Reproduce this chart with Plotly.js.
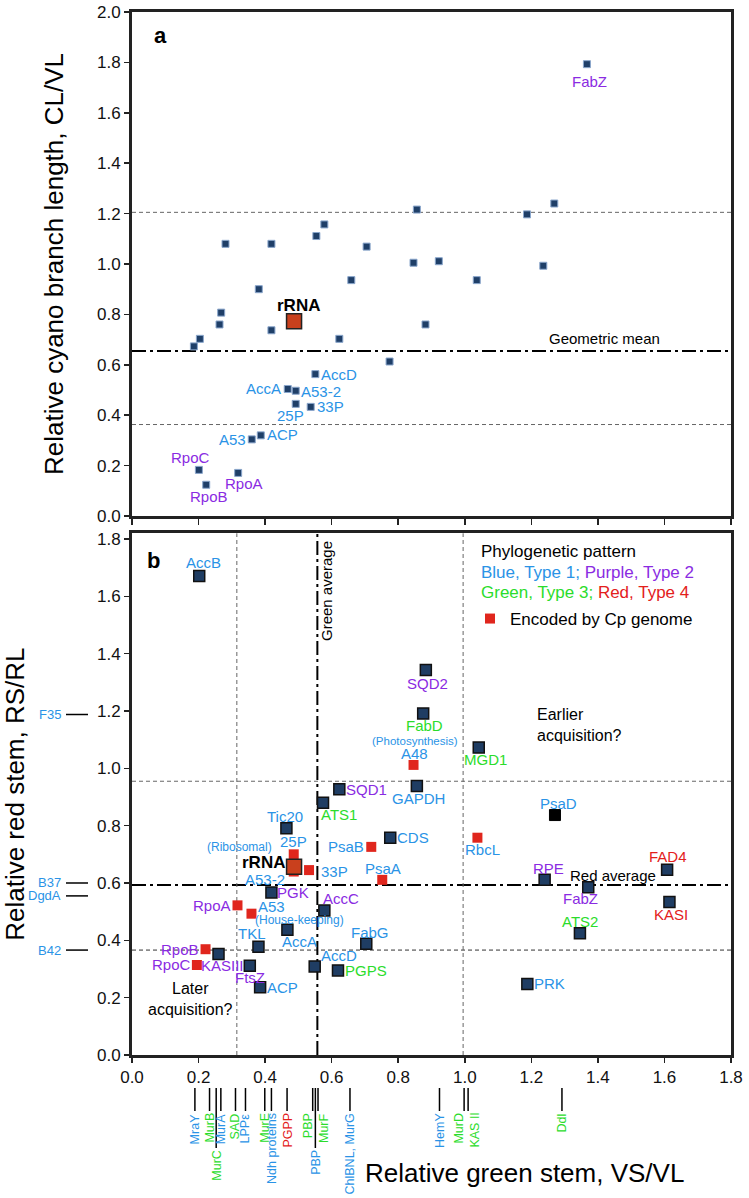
<!DOCTYPE html>
<html>
<head>
<meta charset="utf-8">
<script src="https://cdn.plot.ly/plotly-3.0.1.min.js"></script>
<style>html,body{margin:0;padding:0;background:#fff}#chart{width:749px;height:1198px}</style>
</head>
<body>
<div id="chart"></div>
<script>
// ---------------- DATA ----------------
// Panel a: relative green stem (VS/VL) vs relative cyano branch length (CL/VL)
const aGenes = ['FabZ','','','','','','','','','','','','','','','','','','','','','','',
                'AccD','AccA','A53-2','25P','33P','ACP','A53','RpoC','RpoB','RpoA'];
const aVS = [1.367,1.269,1.187,0.856,0.578,0.554,0.281,0.419,0.705,0.846,0.922,1.236,0.659,1.036,
             0.381,0.268,0.263,0.419,0.882,0.623,0.204,0.186,0.774,
             0.551,0.468,0.492,0.492,0.537,0.387,0.360,0.201,0.223,0.319];
const aCL = [1.793,1.240,1.197,1.216,1.157,1.111,1.080,1.080,1.069,1.005,1.011,0.993,0.936,0.936,
             0.900,0.807,0.760,0.737,0.760,0.703,0.703,0.673,0.613,
             0.563,0.504,0.497,0.445,0.433,0.320,0.304,0.183,0.124,0.171];
const geoMeanCL = 0.655, cyanoUpper = 1.205, cyanoLower = 0.363;

// rRNA reference
const rrnaVS = 0.487, rrnaCL = 0.773, rrnaRS = 0.657;

// Panel b: relative green stem (VS/VL) vs relative red stem (RS/RL)
const bGenes = ['AccB','SQD2','FabD','A48','MGD1','SQD1','GAPDH','ATS1','PsaD','Tic20','CDS','RbcL',
                'PsaB','25P','A53-2','33P','PsaA','RPE','FAD4','FabZ','KASI','ATS2','PRK','PGK','AccC',
                'RpoA','A53','AccA','TKL','FabG','RpoB','KASIII','RpoC','FtsZ','AccD','PGPS','ACP'];
const bVS = [0.202,0.883,0.875,0.846,1.042,0.623,0.856,0.574,1.271,0.464,0.776,1.038,
             0.719,0.486,0.486,0.532,0.752,1.240,1.608,1.371,1.615,1.346,1.188,0.419,0.578,
             0.317,0.359,0.467,0.380,0.704,0.221,0.260,0.195,0.354,0.549,0.619,0.385];
const bRS = [1.671,1.343,1.191,1.012,1.073,0.927,0.938,0.880,0.837,0.791,0.758,0.758,
             0.726,0.700,0.640,0.645,0.611,0.611,0.646,0.585,0.534,0.425,0.248,0.567,0.504,
             0.522,0.493,0.437,0.378,0.388,0.369,0.352,0.314,0.311,0.309,0.295,0.236];
// phylogenetic pattern type: 1 blue, 2 purple, 3 green, 4 red
const bType = [1,2,3,1,3,2,1,3,1,1,1,1,
               1,1,1,1,1,2,4,2,4,3,1,2,2,
               2,1,1,1,1,2,2,2,2,1,3,1];
// encoding: N nuclear, P plastid (Cp genome), U other
const bEncoding = ['N','N','N','P','N','N','N','N','U','N','N','P',
                   'P','P','P','P','P','N','N','N','N','N','N','N','N',
                   'P','P','N','N','N','P','N','P','N','N','N','N'];
const greenAverage = 0.557, redAverage = 0.593;
const greenLower = 0.315, greenUpper = 0.995, redUpper = 0.955, redLower = 0.366;

// genes known only on the green axis (bottom) or only on the red axis (left)
const bottomGenes = ['MraY','MurB','MurC','MurA','SAD','LPPε','MurE','Ndh proteins','PGPP','PBP','PBP','MurF',
                     'ChlBNL, MurG','HemY','MurD','KAS II','Ddl'];
const bottomVS = [0.189,0.233,0.253,0.267,0.311,0.341,0.399,0.419,0.466,0.543,0.551,0.559,
                  0.655,0.924,0.998,1.010,1.292];
const bottomType = [1,3,3,1,3,1,3,1,4,3,1,3,1,1,3,3,3];
const leftGenes = ['F35','B37','DgdA','B42'];
const leftRS = [1.188,0.600,0.555,0.366];
const leftType = [1,1,1,1];

const xTicks = [0,0.2,0.4,0.6,0.8,1.0,1.2,1.4,1.6,1.8];

// ---------------- STYLE / LAYOUT ----------------
const W = 749, H = 1198;
const FONT = 'Liberation Sans, Arial, Helvetica, sans-serif';
const px2x = p => p / W, px2y = p => 1 - p / H;
const typeColor = {1:'#2a93e6', 2:'#8a2be2', 3:'#2bdc2b', 4:'#e3201b'};
const typeOf = g => bType[bGenes.indexOf(g)];

const xDomain = [px2x(132), px2x(731)];
const yaDomain = [px2y(516), px2y(12)];
const ybTopVal = 1.82;
const ybDomain = [px2y(1055), px2y(1055 - ybTopVal * (516 / 1.8))];

const aLabelPos = {FabZ:['center',3,-17], AccD:['left',5,0], AccA:['right',-6,0], 'A53-2':['left',4,-1],
  '25P':['center',-5,-12], '33P':['left',5,0], ACP:['left',5,1], A53:['right',-5,0],
  RpoC:['center',-8,12], RpoB:['center',3,-12], RpoA:['center',6,-11]};
const bLabelPos = {AccB:['center',4,13], SQD2:['center',2,-13], FabD:['center',1,-12], A48:['center',1,11],
  MGD1:['center',7,-12], SQD1:['left',6,0], GAPDH:['center',2,-12], ATS1:['left',-3,-12], PsaD:['center',4,12],
  Tic20:['center',-1,12], CDS:['left',6,0], RbcL:['center',5,-12], PsaB:['right',-6,0], '25P':['center',0,13],
  'A53-2':['right',-8,-8], '33P':['left',11,-1], PsaA:['center',1,11], RPE:['center',4,11], FAD4:['center',1,13],
  FabZ:['center',-8,-11], KASI:['center',2,-13], ATS2:['center',0,12], PRK:['left',6,0], PGK:['left',5,0],
  AccC:['left',-2,12], RpoA:['right',-5,0], A53:['left',6,7], AccA:['center',12,-12], TKL:['center',-6,13],
  FabG:['center',4,11], RpoB:['right',-6,0], KASIII:['center',4,-11], RpoC:['right',-5,0], FtsZ:['center',0,-12],
  AccD:['left',5,11], PGPS:['left',6,0], ACP:['left',6,0]};
const bottomLongIdx = [2, 10];
const bottomLabelShift = {9:-5, 11:6, 14:-6, 15:6};

function lab(x, y, text, color, pos, xref, yref, size, extra) {
  return Object.assign({x, y, xref, yref, text, showarrow:false, xanchor:pos[0], yanchor:'middle', borderpad:0,
    xshift:pos[1], yshift:pos[2], font:{family:FONT, size:size||15, color}}, extra||{});
}

// ---------------- TRACES ----------------
const traces = [];
traces.push({type:'scatter', mode:'markers', x:aVS, y:aCL, xaxis:'x', yaxis:'y', showlegend:false, hoverinfo:'skip',
  marker:{symbol:'square', size:7, color:'#1f3f68', line:{color:'#8aa6cc', width:1}}});
traces.push({type:'scatter', mode:'markers', x:[rrnaVS], y:[rrnaCL], xaxis:'x', yaxis:'y', showlegend:false, hoverinfo:'skip',
  marker:{symbol:'square', size:15, color:'#c9401d', line:{color:'#222', width:1.5}}});

function pick(arr, enc) { return arr.filter((v,i) => bEncoding[i] === enc); }
traces.push({type:'scatter', mode:'markers', x:pick(bVS,'N'), y:pick(bRS,'N'), xaxis:'x2', yaxis:'y2',
  showlegend:false, hoverinfo:'skip',
  marker:{symbol:'square', size:11, color:'#1f3d63', line:{color:'#111', width:1.5}}});
traces.push({type:'scatter', mode:'markers', x:pick(bVS,'U'), y:pick(bRS,'U'), xaxis:'x2', yaxis:'y2',
  showlegend:false, hoverinfo:'skip',
  marker:{symbol:'square', size:11, color:'#000', line:{color:'#000', width:1}}});
traces.push({type:'scatter', mode:'markers', x:pick(bVS,'P'), y:pick(bRS,'P'), xaxis:'x2', yaxis:'y2',
  name:'Encoded by Cp genome', showlegend:true, hoverinfo:'skip',
  marker:{symbol:'square', size:10, color:'#e0261d', line:{width:0}}});
traces.push({type:'scatter', mode:'markers', x:[rrnaVS], y:[rrnaRS], xaxis:'x2', yaxis:'y2', showlegend:false, hoverinfo:'skip',
  marker:{symbol:'square', size:15, color:'#c9401d', line:{color:'#222', width:1.5}}});

// ---------------- SHAPES ----------------
const dash = '4px,3px', dashDot = '14px,4px,3px,4px';
const shapes = [];
function hline(y, yref, xref, style) { shapes.push({type:'line', xref, yref, x0:0, x1:1, y0:y, y1:y, layer:'below', line:style}); }
function vline(x, xref, yref, style) { shapes.push({type:'line', xref, yref, x0:x, x1:x, y0:0, y1:1, layer:'below', line:style}); }
const grayDash = {color:'#666', width:1, dash};
const blackDD = {color:'#000', width:2, dash:dashDot};
hline(cyanoUpper, 'y', 'x domain', grayDash);
hline(cyanoLower, 'y', 'x domain', grayDash);
hline(geoMeanCL, 'y', 'x domain', blackDD);
hline(redUpper, 'y2', 'x2 domain', grayDash);
hline(redLower, 'y2', 'x2 domain', {color:'#333', width:1, dash});
hline(redAverage, 'y2', 'x2 domain', blackDD);
vline(greenLower, 'x2', 'y2 domain', grayDash);
vline(greenUpper, 'x2', 'y2 domain', grayDash);
vline(greenAverage, 'x2', 'y2 domain', blackDD);

// gene markers outside the axes
const tickTop = 1088, tickShort = 1111, tickLong = 1148;
bottomVS.forEach((v, i) => {
  const end = bottomLongIdx.includes(i) ? tickLong : tickShort;
  shapes.push({type:'line', xref:'x2', yref:'paper', x0:v, x1:v, y0:px2y(tickTop), y1:px2y(end), line:{color:'#000', width:1.5}});
});
leftRS.forEach(v => {
  shapes.push({type:'line', xref:'paper', yref:'y2', x0:px2x(66), x1:px2x(88), y0:v, y1:v, line:{color:'#000', width:1.5}});
});

// ---------------- ANNOTATIONS ----------------
const ann = [];
aGenes.forEach((g, i) => {
  if (!g) return;
  ann.push(lab(aVS[i], aCL[i], g, typeColor[typeOf(g)], aLabelPos[g], 'x', 'y'));
});
ann.push(lab(rrnaVS, rrnaCL, '<b>rRNA</b>', '#000', ['center',4,16], 'x', 'y', 17));
bGenes.forEach((g, i) => {
  ann.push(lab(bVS[i], bRS[i], g, typeColor[bType[i]], bLabelPos[g], 'x2', 'y2'));
});
ann.push(lab(rrnaVS, rrnaRS, '<b>rRNA</b>', '#000', ['right',-8,4], 'x2', 'y2', 17));
// functional group notes
const iA48 = bGenes.indexOf('A48'), iA53 = bGenes.indexOf('A53');
ann.push(lab(bVS[iA48], bRS[iA48], '(Photosynthesis)', typeColor[1], ['center',1,24], 'x2', 'y2', 11.5));
ann.push(lab(rrnaVS, rrnaRS, '(Ribosomal)', typeColor[1], ['center',-55,20], 'x2', 'y2', 12));
ann.push(lab(bVS[iA53], bRS[iA53], '(House-keeping)', typeColor[1], ['center',48,-6], 'x2', 'y2', 12));
// reference-line notes
ann.push(lab(1.42, geoMeanCL, 'Geometric mean', '#000', ['center',0,12], 'x', 'y', 15));
ann.push(lab(greenAverage, 0.89, 'Green average', '#000', ['center',9,0], 'x2', 'y2 domain', 15, {textangle:-90}));
ann.push(lab(1.446, redAverage, 'Red average', '#000', ['center',0,10], 'x2', 'y2', 15));
ann.push(lab(1.214, 1.15, 'Earlier<br>acquisition?', '#000', ['left',0,0], 'x2', 'y2', 16, {align:'left'}));
ann.push(lab(0.177, 0.195, 'Later<br>acquisition?', '#000', ['center',0,0], 'x2', 'y2', 16, {align:'center'}));
// panel letters
ann.push(lab(0.048, 0.953, '<b>a</b>', '#000', ['center',0,0], 'x domain', 'y domain', 22));
ann.push(lab(0.036, 0.947, '<b>b</b>', '#000', ['center',0,0], 'x2 domain', 'y2 domain', 22));
// legend heading lines
const legendLines = ['Phylogenetic pattern',
  '<span style="color:' + typeColor[1] + '">Blue, Type 1; </span><span style="color:' + typeColor[2] + '">Purple, Type 2</span>',
  '<span style="color:' + typeColor[3] + '">Green, Type 3; </span><span style="color:' + typeColor[4] + '">Red, Type 4</span>'];
legendLines.forEach((t, i) => {
  ann.push({x:px2x(480), xref:'paper', y:px2y(552 + 20 * i), yref:'paper', text:t, showarrow:false,
    xanchor:'left', yanchor:'middle', borderpad:0, font:{family:FONT, size:17, color:'#000'}});
});
// gene labels outside axes
bottomGenes.forEach((g, i) => {
  const end = bottomLongIdx.includes(i) ? tickLong : tickShort;
  ann.push({x:bottomVS[i], xref:'x2', y:px2y(end + 1), yref:'paper', text:g, showarrow:false, textangle:-90,
    xanchor:'center', yanchor:'top', borderpad:0, xshift:bottomLabelShift[i] || 0,
    font:{family:FONT, size:12.5, color:typeColor[bottomType[i]]}});
});
leftGenes.forEach((g, i) => {
  ann.push({x:px2x(62), xref:'paper', y:leftRS[i], yref:'y2', text:g, showarrow:false, borderpad:0,
    xanchor:'right', yanchor:'middle', font:{family:FONT, size:13, color:typeColor[leftType[i]]}});
});
// x-axis title of panel b (offset to the right like the original)
ann.push({x:px2x(524), xref:'paper', y:px2y(1173), yref:'paper', text:'Relative green stem, VS/VL', showarrow:false,
  xanchor:'center', yanchor:'middle', font:{family:FONT, size:26, color:'#000'}});

// ---------------- AXES ----------------
const axBase = {showgrid:false, zeroline:false, showline:true, mirror:true, linecolor:'#222', linewidth:3,
  ticks:'outside', ticklen:5, tickwidth:1.5, tickcolor:'#222', automargin:false, fixedrange:true,
  tickfont:{family:FONT, size:17, color:'#111'}, tickformat:'.1f'};

const layout = {
  width:W, height:H, margin:{l:0, r:0, t:0, b:0, autoexpand:false},
  paper_bgcolor:'#fff', plot_bgcolor:'#fff', font:{family:FONT, color:'#000'},
  xaxis: Object.assign({}, axBase, {domain:xDomain, anchor:'y', range:[0,1.8], tickvals:xTicks,
    showticklabels:false, ticklen:6}),
  yaxis: Object.assign({}, axBase, {domain:yaDomain, anchor:'x', range:[0,2.0], dtick:0.2, tick0:0,
    title:{text:'Relative cyano branch length, CL/VL', font:{family:FONT, size:26, color:'#000'}, standoff:26}}),
  xaxis2: Object.assign({}, axBase, {domain:xDomain, anchor:'y2', range:[0,1.8], tickvals:xTicks, ticklabelstandoff:0}),
  yaxis2: Object.assign({}, axBase, {domain:ybDomain, anchor:'x2', range:[0,ybTopVal], dtick:0.2, tick0:0,
    title:{text:'Relative red stem, RS/RL', font:{family:FONT, size:26, color:'#000'}, standoff:74}}),
  showlegend:true,
  legend:{x:px2x(470), y:px2y(601), xanchor:'left', yanchor:'top', bgcolor:'rgba(0,0,0,0)',
    font:{family:FONT, size:17, color:'#000'}},
  shapes, annotations: ann
};

Plotly.newPlot('chart', traces, layout, {staticPlot:true, displayModeBar:false});
</script>
</body>
</html>
